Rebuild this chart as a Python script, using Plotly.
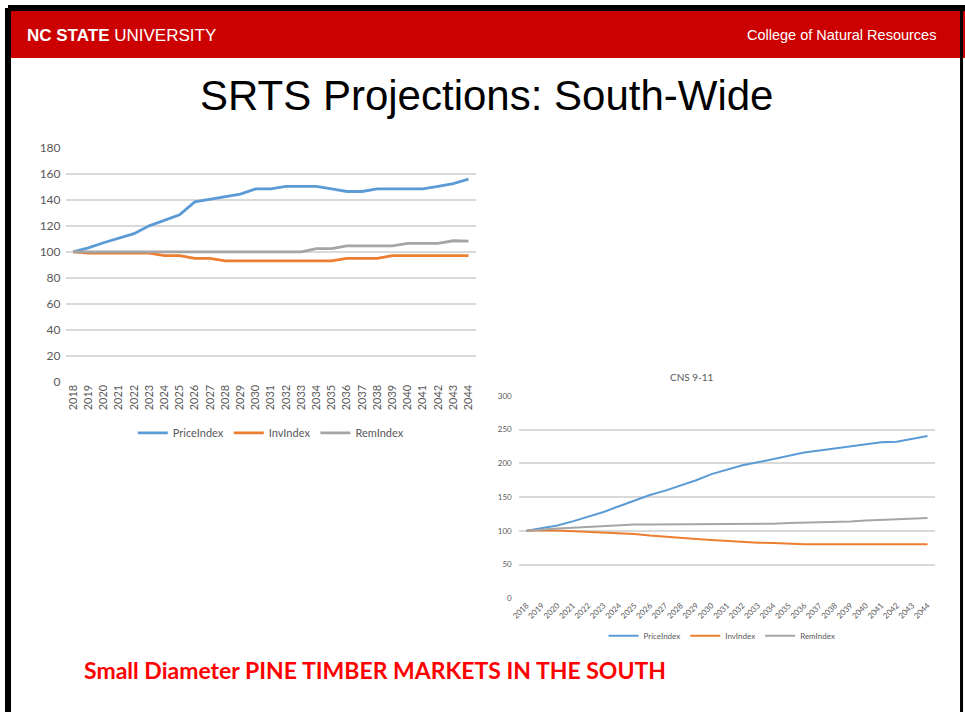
import plotly.graph_objects as go

W, H = 965, 719

years = [str(y) for y in range(2018, 2045)]

# South-wide chart (left)
sw_price = [100, 103, 107, 110.5, 114, 120, 124.5, 128.5, 138.5, 140.5, 142.5, 144.5, 148.5, 148.5,
            150.5, 150.5, 150.5, 148.5, 146.5, 146.5, 148.5, 148.5, 148.5, 148.5, 150.5, 152.5, 156]
sw_inv = [100, 99, 99, 99, 99, 99, 97, 97, 95, 95, 93, 93, 92.5, 93, 93, 93, 93, 93, 95, 95, 95,
          97, 97, 97, 97, 97, 97]
sw_rem = [100, 100, 100, 100, 100, 100, 100, 100, 100, 100, 100, 100, 100, 100, 100, 100, 102.5,
          102.5, 104.5, 104.5, 104.5, 104.5, 106.5, 106.5, 106.5, 108.5, 108.3]

# CNS 9-11 chart (right)
cns_price = [100, 103.5, 108, 114, 121, 128, 136.5, 145, 153, 159.5, 167, 175, 184, 191, 197,
             201.5, 206, 211.5, 216, 219, 222, 225, 227, 231, 232, 236, 240.5]
cns_inv = [100, 101, 100.5, 99.5, 99, 98, 96.5, 95.5, 93, 91, 89.5, 88, 86.5, 85, 83.5, 82.5, 82,
           80.5, 80, 80, 80, 79.5, 80, 80, 80, 80.5, 80]
cns_rem = [100, 102, 103.5, 104.5, 106, 107, 108.5, 109.5, 109.5, 109.5, 109.5, 109.5, 110,
           109.5, 110, 110.5, 110.5, 111.5, 112, 112.5, 113, 114, 115.5, 116.5, 117, 118, 119]

series_names = ["PriceIndex", "InvIndex", "RemIndex"]
colors = ["#5b9bd5", "#ed7d31", "#a5a5a5"]

left_ticks = [0, 20, 40, 60, 80, 100, 120, 140, 160, 180]
right_ticks = [0, 50, 100, 150, 200, 250, 300]

def px_x(x):
    return x / W

def px_y(y):
    return 1 - y / H

fig = go.Figure()

for name, vals, c in zip(series_names, [sw_price, sw_inv, sw_rem], colors):
    fig.add_trace(go.Scatter(x=years, y=vals, name=name, mode="lines",
                             line=dict(color=c, width=2.8), xaxis="x", yaxis="y",
                             legend="legend"))
for name, vals, c in zip(series_names, [cns_price, cns_inv, cns_rem], colors):
    fig.add_trace(go.Scatter(x=years, y=vals, name=name, mode="lines",
                             line=dict(color=c, width=2), xaxis="x2", yaxis="y2",
                             legend="legend2"))

grid = "#d9d9d9"
tickc = "#595959"
cfont = "Lato, Carlito, Calibri, sans-serif"
hfont = "Liberation Sans, Arial, sans-serif"

fig.update_layout(
    autosize=True,
    margin=dict(l=0, r=0, t=0, b=0),
    paper_bgcolor="white", plot_bgcolor="white",
    showlegend=True,
    xaxis=dict(domain=[px_x(58), px_x(472)], type="category", range=[-0.5, 26.5],
               showgrid=False, showline=False, ticks="", tickangle=-90,
               tickfont=dict(family=cfont, size=11, color=tickc), anchor="y",
               fixedrange=True),
    yaxis=dict(domain=[px_y(381.5), px_y(143)], range=[0, 180], tickvals=left_ticks,
               showgrid=True, gridcolor=grid, gridwidth=2, zeroline=False,
               tickfont=dict(family=cfont, size=12, color=tickc), anchor="x",
               ticklabelstandoff=4, fixedrange=True),
    xaxis2=dict(domain=[px_x(515), px_x(935)], type="category", range=[-0.5, 26.5],
                showgrid=False, showline=False, ticks="", tickangle=-45,
                tickfont=dict(family=cfont, size=8, color=tickc), anchor="y2",
                fixedrange=True),
    yaxis2=dict(domain=[px_y(603), px_y(396)], range=[0, 300], tickvals=right_ticks,
                showgrid=True, gridcolor=grid, gridwidth=1.5, zeroline=False,
                tickfont=dict(family=cfont, size=8, color=tickc), anchor="x2",
                ticklabelstandoff=6, fixedrange=True),
    legend=dict(orientation="h", x=px_x(265), y=px_y(434), xanchor="center", yanchor="middle",
                font=dict(family=cfont, size=11, color=tickc), itemwidth=30,
                bgcolor="rgba(0,0,0,0)"),
    legend2=dict(orientation="h", x=px_x(720), y=px_y(641), xanchor="center", yanchor="middle",
                 font=dict(family=cfont, size=8, color=tickc), itemwidth=30,
                 bgcolor="rgba(0,0,0,0)"),
    shapes=[
        dict(type="rect", xref="paper", yref="paper", x0=0, x1=1, y0=px_y(51), y1=1,
             fillcolor="#cc0000", line=dict(width=0), layer="below"),
        dict(type="line", xref="paper", yref="paper", x0=0, x1=1, y0=1, y1=1,
             line=dict(color="black", width=6)),
        dict(type="line", xref="paper", yref="paper", x0=0, x1=0, y0=0, y1=1,
             line=dict(color="black", width=6)),
        dict(type="line", xref="paper", yref="paper", x0=px_x(961.5), x1=px_x(961.5), y0=0, y1=1,
             line=dict(color="black", width=3)),
    ],
    annotations=[
        dict(text="<b>NC STATE</b> UNIVERSITY", x=px_x(17), y=px_y(28), xref="paper", yref="paper",
             xanchor="left", yanchor="middle", showarrow=False,
             font=dict(family=hfont, size=17, color="white")),
        dict(text="College of Natural Resources", x=px_x(938), y=px_y(28), xref="paper", yref="paper",
             xanchor="right", yanchor="middle", showarrow=False,
             font=dict(family=hfont, size=14.5, color="white")),
        dict(text="SRTS Projections: South-Wide", x=px_x(482.5), y=px_y(89), xref="paper",
             yref="paper", xanchor="center", yanchor="middle", showarrow=False,
             font=dict(family=hfont, size=42, color="black")),
        dict(text="CNS 9-11", x=px_x(690), y=px_y(377), xref="paper", yref="paper",
             xanchor="center", yanchor="middle", showarrow=False,
             font=dict(family=cfont, size=10, color=tickc)),
        dict(text="<b>Small Diameter PINE TIMBER MARKETS IN THE SOUTH</b>", x=px_x(75),
             y=px_y(676), xref="paper", yref="paper", xanchor="left", yanchor="middle",
             showarrow=False,
             font=dict(family=cfont, size=23, color="#ff0000")),
    ],
)

fig.write_html(
    "out.html",
    config={"displayModeBar": False},
    default_width="965px; position:fixed; left:0; top:0",
    default_height="719px",
    post_script="document.body.style.margin='0';document.body.style.overflow='hidden';",
)
